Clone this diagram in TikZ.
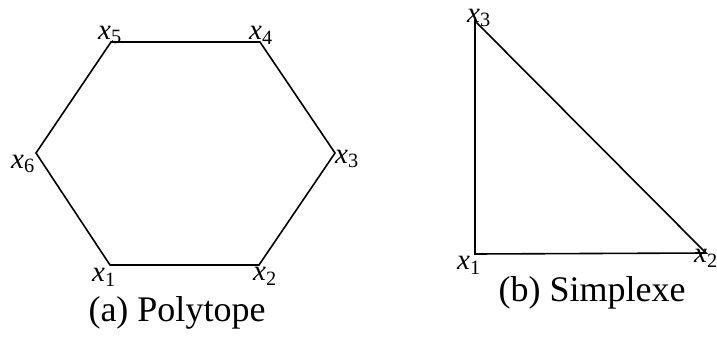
\documentclass[tikz,border=0pt]{standalone}
\usepackage{fontspec}
\setmainfont{Liberation Serif}
\usetikzlibrary{positioning,calc}
\newcommand{\vx}[1]{\textit{x}\textsubscript{#1}}

\begin{document}
\begin{tikzpicture}[x=1pt,y=-1pt,edge/.style={line width=1.6pt,line join=miter},
      lbl/.style={inner sep=0pt,font=\fontsize{29}{32}\selectfont},
      captext/.style={inner sep=0pt,font=\fontsize{36}{40}\selectfont}]
    \useasboundingbox (0,0) rectangle (717,337);
    % polytope
    \coordinate (p1) at (110,265);
    \coordinate (p2) at (259,265);
    \coordinate (p3) at (335,153);
    \coordinate (p4) at (260,42);
    \coordinate (p5) at (111,42);
    \coordinate (p6) at (36,153);
    \draw[edge] (p1)--(p2)--(p3)--(p4)--(p5)--(p6)--cycle;
    \node[lbl] (l1) at (104,277) {\vx{1}};
    \node[lbl] (l2) at (265,276) {\vx{2}};
    \node[lbl] (l3) at (347,159) {\vx{3}};
    \node[lbl] (l4) at (261,35) {\vx{4}};
    \node[lbl] (l5) at (110,35) {\vx{5}};
    \node[lbl] (l6) at (23,164) {\vx{6}};
    \node[captext] (capa) at (177,313) {(a) Polytope};
    % simplexe
    \coordinate (s1) at (475,254);
    \coordinate (s2) at (706,253);
    \coordinate (s3) at (475,21);
    \draw[edge] (s1)--(s2)--(s3)--cycle;
    \node[lbl] (t1) at (469,265) {\vx{1}};
    \node[lbl] (t2) at (706,258) {\vx{2}};
    \node[lbl] (t3) at (479,18) {\vx{3}};
    \node[captext] (capb) at (592,293) {(b) Simplexe};
  \end{tikzpicture}
\end{document}
